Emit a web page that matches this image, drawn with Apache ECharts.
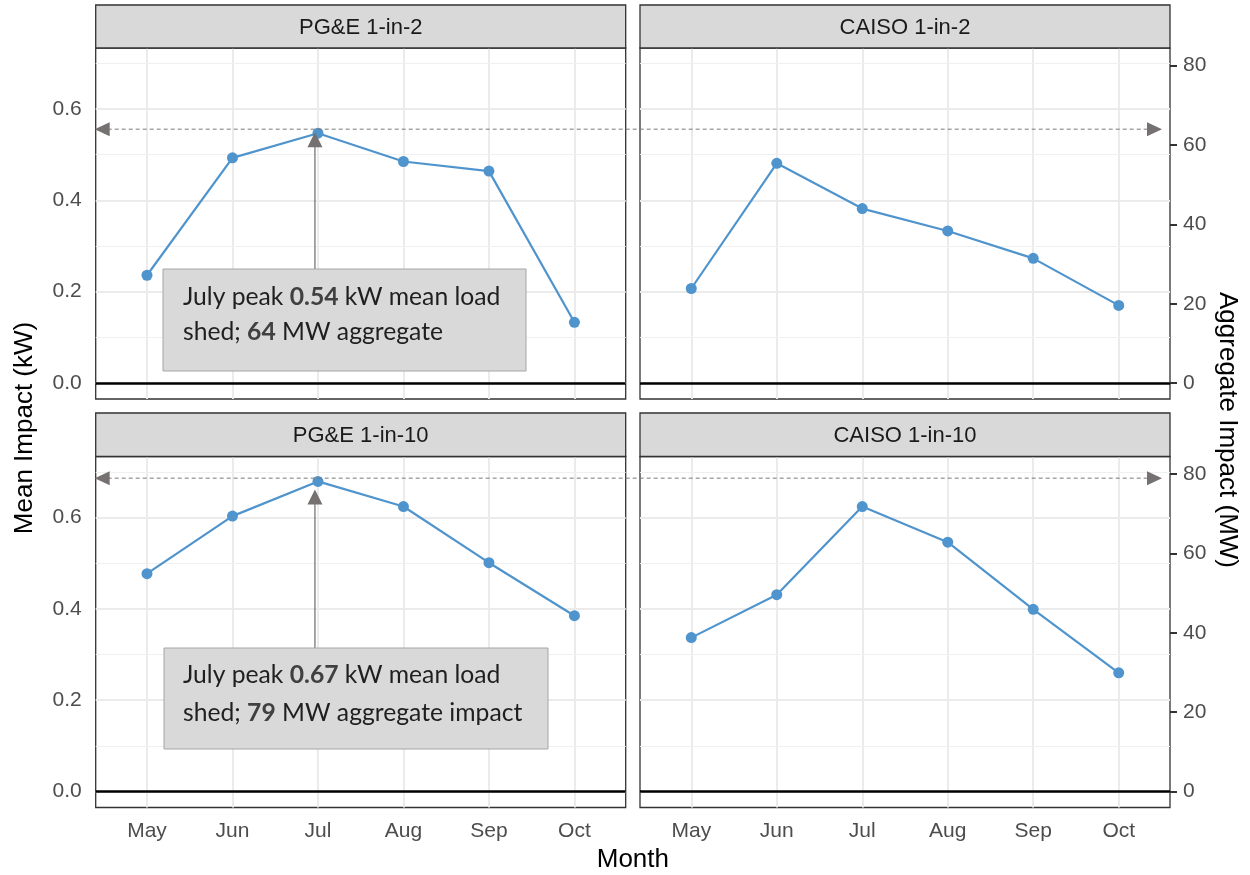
<!DOCTYPE html>
<html><head><meta charset="utf-8">
<script src="https://cdn.jsdelivr.net/npm/echarts@6/dist/echarts.min.js"></script>
<style>html,body{margin:0;padding:0;background:#fff}#c{width:1250px;height:875px}</style>
</head><body><div id="c"></div>
<script>
// ---- data ----
const months = ['May', 'Jun', 'Jul', 'Aug', 'Sep', 'Oct'];
const panelTitles = ['PG&E 1-in-2', 'CAISO 1-in-2', 'PG&E 1-in-10', 'CAISO 1-in-10'];
const pge1in2 = [0.236, 0.493, 0.547, 0.485, 0.464, 0.133];
const caiso1in2 = [0.207, 0.481, 0.382, 0.333, 0.273, 0.170];
const pge1in10 = [0.477, 0.603, 0.679, 0.624, 0.501, 0.385];
const caiso1in10 = [0.337, 0.431, 0.624, 0.546, 0.399, 0.260];
const kwTicks = [0, 0.2, 0.4, 0.6];
const kwMinor = [0.1, 0.3, 0.5, 0.7];
const mwTicks = [0, 20, 40, 60, 80];
const mwPerKw = 115.15;
const peakMW = [64, 79];
const peakKWText = ['0.54', '0.67'];
const peakMWText = ['64', '79'];
const peakMonth = 2;

const seriesData = [pge1in2, caiso1in2, pge1in10, caiso1in10];
const kwMin = -0.0349, kwMax = 0.7335;

const FONT = 'Liberation Sans, Arial, Helvetica, sans-serif';
const BLUE = '#4F94CD';
const grids = [
  {left: 95.7, top: 48, width: 530, height: 351},
  {left: 640, top: 48, width: 530, height: 351},
  {left: 95.7, top: 456.5, width: 530, height: 351},
  {left: 640, top: 456.5, width: 530, height: 351}
];

const chart = echarts.init(document.getElementById('c'), null, {renderer: 'canvas'});

const xAxes = grids.map((g, i) => {
  const bottom = i >= 2;
  return {
    type: 'value', gridIndex: i, min: -0.6, max: 5.6,
    axisLine: {show: false},
    splitLine: {show: false},
    axisTick: {show: bottom, customValues: [0, 1, 2, 3, 4, 5], length: 7, lineStyle: {color: '#333333', width: 2}},
    axisLabel: {show: bottom, customValues: [0, 1, 2, 3, 4, 5], formatter: v => months[Math.round(v)],
      fontSize: 21, color: '#4d4d4d', fontFamily: FONT, margin: 13}
  };
});

const yAxes = [];
grids.forEach((g, i) => {
  const left = i % 2 === 0;
  yAxes.push({
    type: 'value', gridIndex: i, min: kwMin, max: kwMax, show: left,
    axisLine: {show: false}, splitLine: {show: false},
    axisTick: {show: left, customValues: kwTicks, length: 7, lineStyle: {color: '#333333', width: 2}},
    axisLabel: {show: left, customValues: kwTicks, formatter: v => v.toFixed(1),
      fontSize: 21, color: '#4d4d4d', fontFamily: FONT, margin: 14}
  });
});
[1, 3].forEach(i => {
  yAxes.push({
    type: 'value', gridIndex: i, position: 'right', min: kwMin * mwPerKw, max: kwMax * mwPerKw,
    axisLine: {show: false}, splitLine: {show: false},
    axisTick: {show: true, customValues: mwTicks, length: 7, lineStyle: {color: '#333333', width: 2}},
    axisLabel: {show: true, customValues: mwTicks, formatter: v => String(Math.round(v)),
      fontSize: 21, color: '#4d4d4d', fontFamily: FONT, margin: 13}
  });
});

const series = [];
grids.forEach((g, i) => {
  const gridLines = [];
  months.forEach((m, k) => gridLines.push({xAxis: k, lineStyle: {color: '#ebebeb', width: 2, type: 'solid'}}));
  kwTicks.forEach(v => gridLines.push({yAxis: v, lineStyle: {color: '#ebebeb', width: 2, type: 'solid'}}));
  kwMinor.forEach(v => gridLines.push({yAxis: v, lineStyle: {color: '#f0f0f0', width: 1.2, type: 'solid'}}));
  series.push({
    type: 'line', xAxisIndex: i, yAxisIndex: i, data: [], z: 1, silent: true,
    markLine: {silent: true, z: 1, symbol: ['none', 'none'], label: {show: false}, animation: false, data: gridLines}
  });
  series.push({
    type: 'line', xAxisIndex: i, yAxisIndex: i, data: [], z: 2, silent: true,
    markLine: {silent: true, z: 2, symbol: ['none', 'none'], label: {show: false}, animation: false,
      data: [{yAxis: 0, lineStyle: {color: '#000000', width: 2.5, type: 'solid'}}]}
  });
  series.push({
    type: 'line', xAxisIndex: i, yAxisIndex: i, z: 10,
    data: seriesData[i].map((v, k) => [k, v]),
    symbol: 'circle', symbolSize: 11, showSymbol: true,
    lineStyle: {color: BLUE, width: 2.2},
    itemStyle: {color: BLUE, borderWidth: 0}
  });
});

chart.setOption({
  animation: false,
  backgroundColor: '#ffffff',
  grid: grids.map(g => Object.assign({show: true, borderColor: '#333333', borderWidth: 1.3, backgroundColor: 'transparent'}, g)),
  xAxis: xAxes,
  yAxis: yAxes,
  series: series
});

// ---- overlay: strips, titles, annotations ----
const G = [];
grids.forEach((g, i) => {
  const stripTop = i < 2 ? 5 : 413;
  const h = g.top - stripTop;
  G.push({type: 'rect', shape: {x: g.left, y: stripTop, width: g.width, height: h},
    style: {fill: '#d9d9d9', stroke: '#333333', lineWidth: 1.3}, z: 10});
  G.push({type: 'text', x: g.left + g.width / 2, y: stripTop + h / 2 + 1,
    style: {text: panelTitles[i], fontSize: 22, fontFamily: FONT, fill: '#1a1a1a', align: 'center', verticalAlign: 'middle'}, z: 11});
});

G.push({type: 'text', x: 25, y: 428, rotation: Math.PI / 2,
  style: {text: 'Mean Impact (kW)', fontSize: 26, fontFamily: FONT, fill: '#000', align: 'center', verticalAlign: 'middle'}, z: 11});
G.push({type: 'text', x: 1227, y: 430, rotation: -Math.PI / 2,
  style: {text: 'Aggregate Impact (MW)', fontSize: 26, fontFamily: FONT, fill: '#000', align: 'center', verticalAlign: 'middle'}, z: 11});
G.push({type: 'text', x: (grids[0].left + grids[1].left + grids[1].width) / 2, y: 860,
  style: {text: 'Month', fontSize: 26, fontFamily: FONT, fill: '#000', align: 'center', verticalAlign: 'middle'}, z: 11});

const ARROW = '#767171';
const boxes = [
  {x: 163, y: 269, w: 363, h: 102, tx: 183, ty: 280, lh: 35, tipOff: -1,
   text: 'July peak {b|' + peakKWText[0] + '} kW mean load\nshed; {b|' + peakMWText[0] + '} MW aggregate'},
  {x: 164, y: 648, w: 384, h: 101, tx: 183, ty: 656, lh: 38, tipOff: 8,
   text: 'July peak {b|' + peakKWText[1] + '} kW mean load\nshed; {b|' + peakMWText[1] + '} MW aggregate impact'}
];

const BOXFONT = 'Lato, "Open Sans", sans-serif';
const cv = document.createElement('canvas').getContext('2d');
function w(t, bold, s) { cv.font = (bold ? 'bold ' : '') + s + 'px Lato'; return cv.measureText(t).width; }
const target = 317;
const base = 20;
const m = w('July peak ', false, base) + w('0.67', true, base) + w(' kW mean load', false, base);
const boxFS = Math.round(base * target / m * 10) / 10;

[0, 1].forEach(r => {
  const gl = grids[r * 2], gr = grids[r * 2 + 1];
  const yPk = chart.convertToPixel({yAxisIndex: 4 + r}, peakMW[r]);
  const xL = gl.left, xR = gr.left + gr.width - 8;
  G.push({type: 'line', shape: {x1: xL + 12, y1: yPk, x2: xR - 12, y2: yPk},
    style: {stroke: '#7a7a7a', lineWidth: 1, lineDash: [4, 3]}, z: 20});
  G.push({type: 'polygon', shape: {points: [[xL - 1, yPk], [xL + 14, yPk - 7], [xL + 14, yPk + 7]]}, style: {fill: ARROW}, z: 21});
  G.push({type: 'polygon', shape: {points: [[xR, yPk], [xR - 15, yPk - 7], [xR - 15, yPk + 7]]}, style: {fill: ARROW}, z: 21});
  const b = boxes[r];
  const jul = chart.convertToPixel({xAxisIndex: r * 2, yAxisIndex: r * 2}, [peakMonth, seriesData[r * 2][peakMonth]]);
  const ax = jul[0] - 3, tip = jul[1] + b.tipOff;
  G.push({type: 'line', shape: {x1: ax, y1: b.y, x2: ax, y2: tip + 12}, style: {stroke: '#4d4d4d', lineWidth: 1}, z: 20});
  G.push({type: 'polygon', shape: {points: [[ax, tip], [ax - 7.5, tip + 15], [ax + 7.5, tip + 15]]}, style: {fill: ARROW}, z: 21});
  G.push({type: 'rect', shape: {x: b.x, y: b.y, width: b.w, height: b.h}, style: {fill: '#d9d9d9', stroke: '#a6a6a6', lineWidth: 1}, z: 22});
  G.push({type: 'text', x: b.tx, y: b.ty,
    style: {text: b.text, fontSize: boxFS, fontFamily: BOXFONT, fill: '#1f1f1f', lineHeight: b.lh, align: 'left', verticalAlign: 'top',
      rich: {b: {fontWeight: 'bold', fill: '#404040', fontSize: boxFS, fontFamily: BOXFONT, lineHeight: b.lh}}}, z: 23});
});

chart.setOption({graphic: {elements: G}});
</script>
</body></html>
